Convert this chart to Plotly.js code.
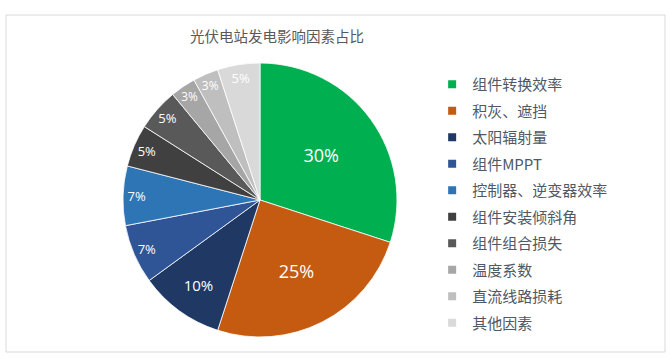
<!DOCTYPE html>
<html>
<head>
<meta charset="utf-8">
<script src="https://cdn.plot.ly/plotly-3.0.1.min.js"></script>
<style>html,body{margin:0;padding:0;background:#fff;}#chart{width:670px;height:359px;}</style>
</head>
<body>
<div id="chart"></div>
<script>
const chartTitle = '光伏电站发电影响因素占比';
const categories = ['组件转换效率','积灰、遮挡','太阳辐射量','组件MPPT','控制器、逆变器效率','组件安装倾斜角','组件组合损失','温度系数','直流线路损耗','其他因素'];
const shares = [30, 25, 10, 7, 7, 5, 5, 3, 3, 5];
const sliceColors = ['#00B050','#C55A11','#1F3864','#2F5597','#2E75B6','#404040','#595959','#A6A6A6','#BFBFBF','#D9D9D9'];

const bigLimit = 10;
const bigText = shares.map(v => v >= bigLimit ? v + '%' : '');
const smallText = shares.map(v => v < bigLimit ? v + '%' : '');
const bigSizes = shares.map(v => v >= 20 ? 18 : 15);

const dom = {x: [0.1836, 0.5925], y: [0.0613, 0.8245]};
const textFamily = '"Open Sans", "Noto Sans CJK SC", sans-serif';

const traces = [
  {
    type: 'pie', labels: categories, values: shares, sort: false,
    direction: 'clockwise', rotation: 0, domain: dom,
    marker: {colors: sliceColors, line: {color: '#ffffff', width: 0.8}},
    text: bigText, textinfo: 'text', textposition: 'inside',
    insidetextorientation: 'horizontal',
    insidetextfont: {color: '#ffffff', size: bigSizes, family: textFamily},
    showlegend: false, hoverinfo: 'label+percent'
  },
  {
    type: 'pie', labels: categories, values: shares, sort: false,
    direction: 'clockwise', rotation: 0, domain: dom, hole: 0.8,
    marker: {colors: categories.map(() => 'rgba(0,0,0,0)'), line: {width: 0}},
    text: smallText, textinfo: 'text', textposition: 'inside',
    insidetextorientation: 'horizontal',
    insidetextfont: {color: '#ffffff', size: 13, family: textFamily},
    showlegend: false, hoverinfo: 'skip'
  }
];

categories.forEach((c, i) => {
  traces.push({
    type: 'scatter', mode: 'markers', x: [null], y: [null], name: c,
    legendgroup: 'g' + i,
    marker: {symbol: 'square', size: 8, color: sliceColors[i]},
    hoverinfo: 'skip'
  });
});

const layout = {
  width: 670, height: 359,
  margin: {l: 0, r: 0, t: 0, b: 0},
  paper_bgcolor: '#ffffff', plot_bgcolor: 'rgba(0,0,0,0)',
  font: {family: '"Noto Sans CJK SC", "Open Sans", sans-serif', color: '#595959'},
  title: {text: chartTitle, x: 277/670, xanchor: 'center', xref: 'paper', y: 1 - 37/359, yanchor: 'middle', font: {size: 14.5, color: '#595959'}},
  xaxis: {visible: false}, yaxis: {visible: false},
  showlegend: true,
  legend: {
    x: 0.645, xanchor: 'left', y: 1 - 68/359, yanchor: 'top',
    traceorder: 'grouped', tracegroupgap: 4,
    font: {size: 15, color: '#4f5864'}, bgcolor: 'rgba(0,0,0,0)'
  },
  shapes: [{type: 'rect', xref: 'paper', yref: 'paper', x0: 6/670, x1: 665/670, y0: 1 - 352/359, y1: 1 - 15/359, line: {color: '#d9d9d9', width: 1}, fillcolor: 'rgba(0,0,0,0)', layer: 'below'}]
};

Plotly.newPlot('chart', traces, layout, {displayModeBar: false, responsive: false});
</script>
</body>
</html>
